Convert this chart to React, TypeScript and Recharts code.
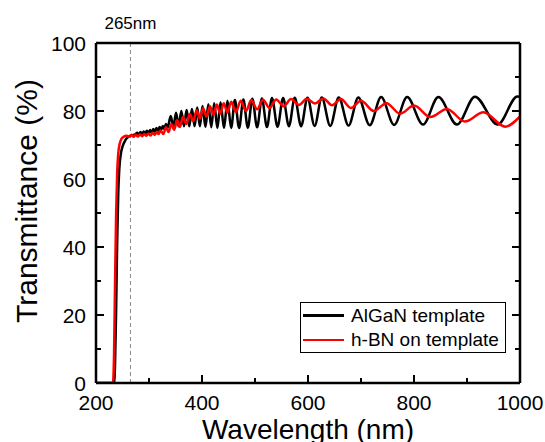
import { Legend, Line, LineChart, ReferenceLine, XAxis, YAxis } from "recharts";

const FONT = '"Liberation Sans", Arial, Helvetica, sans-serif';

const xTicks = [200, 300, 400, 500, 600, 700, 800, 900, 1000];
const xLabels = [200, 400, 600, 800, 1000];
const yTicks = [0, 10, 20, 30, 40, 50, 60, 70, 80, 90, 100];
const yLabels = [0, 20, 40, 60, 80, 100];

// AlGaN template, [wavelength nm, transmittance %]
const algaEdge = [
  [200, 0], [234, 0], [236, 6], [238, 22], [240, 42], [242, 56], [244, 63],
  [247, 67.5], [250, 69.5], [254, 71], [258, 72], [262, 72.5], [268, 72.9], [274, 73.1],
];
const algaRipple = [
  [278, 73.6], [281, 72.9], [284, 73.8], [287, 73.1], [290, 74.0], [293, 73.3],
  [296, 74.2], [299, 73.4], [302, 74.4], [305, 73.6], [308, 74.7], [311, 73.9],
  [314, 75.0], [317, 74.1], [320, 75.3], [323, 74.4], [326, 75.6], [329, 74.7],
  [332, 76.2], [335, 75.0],
];
const algaFringes = [
  [341, 78.5], [346, 75.3], [351, 79.5], [356, 75.5], [361, 80], [366, 75.5],
  [371, 80.3], [376, 75.5], [381, 80.6], [386, 75.5], [391, 81], [396, 75.5],
  [401, 81.5], [406.5, 75.3], [412, 82], [417.5, 75.2], [423, 82.3], [429, 75],
  [435, 82.6], [441.5, 75], [448, 83], [455, 75], [462, 83.2], [470, 75],
  [478, 83.4], [486.5, 75.1], [495, 83.6], [504, 75.2], [513, 83.7], [522.5, 75.3],
  [532, 83.8], [542.5, 75.4], [553, 83.8], [564, 75.5], [575, 83.9], [587, 75.5],
  [599, 83.9], [612.5, 75.6], [626, 84], [642, 75.6], [658, 84], [676.5, 75.7],
  [695, 84], [716.5, 75.8], [738, 84.1], [762.5, 75.9], [787, 84.1], [817, 76],
  [846, 84.1], [881, 76], [915, 84.2], [958, 76], [995, 84.3], [1000, 84.2],
];

// h-BN on template
const hbnEdge = [
  [200, 0], [232, 0], [234, 8], [236, 30], [238, 50], [240, 62], [242, 67.5],
  [245, 70.5], [248, 71.8], [252, 72.4], [258, 72.7],
];
const hbnRipple = [
  [263, 72.4], [267, 73], [271, 72.4], [275, 73], [279, 72.5], [283, 73.1],
  [287, 72.6], [291, 73.2], [295, 72.7], [299, 73.4], [303, 72.8], [307, 73.6],
  [311, 73], [315, 73.9], [318, 73.2],
];
const hbnFringes = [
  [322, 74.3], [327, 73.2], [332, 75.2], [337, 73.8], [342, 76.2], [347.5, 74.5],
  [353, 77.3], [358.5, 75.3], [364, 78.3], [370.5, 76.2], [377, 79.2], [383.5, 77],
  [390, 80.2], [396, 77.8], [402, 80.8], [408.5, 78.4], [415, 81.4], [421.5, 78.9],
  [428, 81.9], [434.5, 79.2], [441, 82.3], [448, 79.5], [455, 82.7], [464, 79.7],
  [473, 83], [483, 80], [493, 83.2], [504, 80.5], [515, 83.3], [527.5, 80.9],
  [540, 83.4], [554, 81.4], [568, 83.5], [583, 81.8], [598, 83.6], [613, 82.2],
  [629, 83.7], [645.5, 81.7], [662, 83.5], [681, 80.9], [700, 83], [724, 80],
  [748, 82.3], [774, 79.2], [800, 81.6], [831, 78.2], [862, 80.6], [896, 76.9],
  [931, 79.6], [972, 75.4], [1000, 78.4],
];

const toRows = (pts: number[][]) => pts.map(([nm, t]) => ({ nm, t }));
const algaData = toRows([...algaEdge, ...algaRipple, ...algaFringes]);
const hbnData = toRows([...hbnEdge, ...hbnRipple, ...hbnFringes]);

const series = [
  { name: "AlGaN template", color: "#000000", data: algaData },
  { name: "h-BN on template", color: "#ff0000", data: hbnData },
];

const tickLen = (major: boolean) => (major ? 8 : 5);

function BottomTick({ x, y, payload }: any) {
  const major = xLabels.includes(payload.value);
  return (
    <g>
      <line x1={x} x2={x} y1={y} y2={y - tickLen(major)} stroke="#000" strokeWidth={2} />
      {major && (
        <text x={x} y={y + 27} textAnchor="middle" fontSize={21} fill="#000">
          {payload.value}
        </text>
      )}
    </g>
  );
}

function TopTick({ x, y, payload }: any) {
  const major = xLabels.includes(payload.value);
  return <line x1={x} x2={x} y1={y} y2={y + tickLen(major)} stroke="#000" strokeWidth={2} />;
}

function LeftTick({ x, y, payload }: any) {
  const major = yLabels.includes(payload.value);
  return (
    <g>
      <line x1={x} x2={x + tickLen(major)} y1={y} y2={y} stroke="#000" strokeWidth={2} />
      {major && (
        <text x={x - 10} y={y} dy="0.36em" textAnchor="end" fontSize={21} fill="#000">
          {payload.value}
        </text>
      )}
    </g>
  );
}

function RightTick({ x, y, payload }: any) {
  const major = yLabels.includes(payload.value);
  return <line x1={x} x2={x - tickLen(major)} y1={y} y2={y} stroke="#000" strokeWidth={2} />;
}

function LegendBox() {
  return (
    <div
      style={{
        border: "1px solid #000",
        background: "#fff",
        width: 204,
        height: 49,
        boxSizing: "content-box",
        fontFamily: FONT,
        fontSize: 19,
        color: "#000",
      }}
    >
      {series.map((s) => (
        <div key={s.name} style={{ display: "flex", alignItems: "center", height: 24.5 }}>
          <div style={{ width: 41, height: 2.5, background: s.color, marginLeft: 2, marginRight: 7 }} />
          <span style={{ lineHeight: "19px" }}>{s.name}</span>
        </div>
      ))}
    </div>
  );
}

const axisLine = { stroke: "#000", strokeWidth: 2.5 };

export default function App() {
  return (
    <div style={{ position: "absolute", left: 0, top: 0, fontFamily: FONT, background: "#fff" }}>
      <LineChart width={545} height={442} margin={{ top: 0, right: 0, bottom: 0, left: 0 }}>
        <XAxis
          type="number"
          dataKey="nm"
          domain={[200, 1000]}
          ticks={xTicks}
          interval={0}
          allowDataOverflow
          height={59}
          tickSize={0}
          tickMargin={0}
          tickLine={false}
          axisLine={axisLine}
          tick={BottomTick}
          label={{ value: "Wavelength (nm)", position: "insideBottom", offset: 3, fontSize: 28, fill: "#000" }}
        />
        <XAxis
          xAxisId="top"
          orientation="top"
          type="number"
          domain={[200, 1000]}
          ticks={xTicks}
          interval={0}
          allowDataOverflow
          height={43}
          tickSize={0}
          tickMargin={0}
          tickLine={false}
          axisLine={axisLine}
          tick={TopTick}
        />
        <YAxis
          type="number"
          domain={[0, 100]}
          ticks={yTicks}
          interval={0}
          allowDataOverflow
          width={96}
          tickSize={0}
          tickMargin={0}
          tickLine={false}
          axisLine={axisLine}
          tick={LeftTick}
          label={{
            value: "Transmittance (%)",
            angle: -90,
            position: "center",
            dx: -22,
            dy: -12,
            fontSize: 30,
            fill: "#000",
          }}
        />
        <YAxis
          yAxisId="right"
          orientation="right"
          type="number"
          domain={[0, 100]}
          ticks={yTicks}
          interval={0}
          allowDataOverflow
          width={25}
          tickSize={0}
          tickMargin={0}
          tickLine={false}
          axisLine={axisLine}
          tick={RightTick}
        />
        <ReferenceLine
          x={265}
          stroke="#888"
          strokeWidth={1}
          strokeDasharray="4 3"
          label={{ value: "265nm", position: "top", offset: 14, fontSize: 17, fill: "#000" }}
        />
        {series.map((s) => (
          <Line
            key={s.name}
            name={s.name}
            data={s.data}
            dataKey="t"
            type="monotone"
            stroke={s.color}
            strokeWidth={2.5}
            dot={false}
            activeDot={false}
            isAnimationActive={false}
          />
        ))}
        <Legend
          layout="horizontal"
          verticalAlign="middle"
          align="center"
          content={LegendBox}
          wrapperStyle={{ left: 300, top: 302, width: 206, height: 51 }}
        />
      </LineChart>
    </div>
  );
}
